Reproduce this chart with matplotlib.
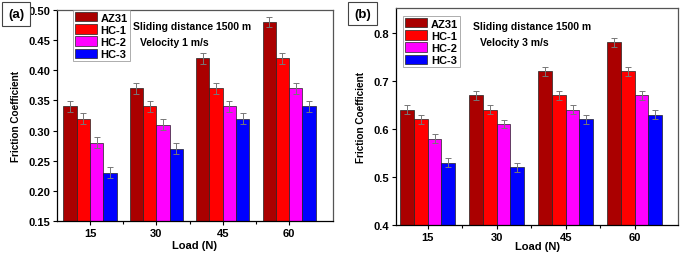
import matplotlib
matplotlib.use("Agg")
import matplotlib.pyplot as plt
import numpy as np

plt.rcParams['font.family'] = ['Liberation Sans', 'DejaVu Sans']
plt.rcParams['font.weight'] = 'bold'

loads = ['15', '30', '45', '60']
series = ['AZ31', 'HC-1', 'HC-2', 'HC-3']
colors = ['#AA0000', '#FF0000', '#FF00FF', '#0000FF']

a_AZ31 = [0.34, 0.37, 0.42, 0.48]
a_HC1 = [0.32, 0.34, 0.37, 0.42]
a_HC2 = [0.28, 0.31, 0.34, 0.37]
a_HC3 = [0.23, 0.27, 0.32, 0.34]
a_err = 0.009

b_AZ31 = [0.64, 0.67, 0.72, 0.78]
b_HC1 = [0.62, 0.64, 0.67, 0.72]
b_HC2 = [0.58, 0.61, 0.64, 0.67]
b_HC3 = [0.53, 0.52, 0.62, 0.63]
b_err = 0.009

fig = plt.figure(figsize=(6.85, 2.55), dpi=100)
axA = fig.add_axes([0.083, 0.129, 0.403, 0.828])
axB = fig.add_axes([0.578, 0.114, 0.412, 0.851])


def draw(ax, data, err, ylim, yticks, fmt, xlim, panel, vel, pos_label,
         leg_anchor, txt1, txt2, xlpad):
    x = np.arange(len(loads))
    w = 0.2
    for i, (vals, c, name) in enumerate(zip(data, colors, series)):
        ax.bar(x + (i - 1.5) * w, vals, w, color=c, edgecolor='#222222',
               linewidth=0.5, label=name, yerr=err,
               error_kw=dict(ecolor='#777777', elinewidth=0.7, capsize=2, capthick=0.7))
    ax.set_ylim(*ylim)
    ax.set_xlim(*xlim)
    ax.set_yticks(yticks)
    ax.set_yticklabels([fmt.format(v) for v in yticks])
    ax.set_xticks(x)
    ax.set_xticklabels(loads)
    ax.set_xticks(x[:-1] + 0.5, minor=True)
    ax.tick_params(axis='both', which='major', direction='out', length=3,
                   width=0.8, labelsize=8, pad=2)
    ax.tick_params(axis='x', which='minor', direction='out', length=2, width=0.8)
    ax.set_xlabel('Load (N)', fontsize=8, fontweight='bold', labelpad=xlpad)
    ax.set_ylabel('Friction Coefficient', fontsize=7.2, fontweight='bold', labelpad=5)
    for s in ['top', 'right']:
        ax.spines[s].set_color('#555555')
    for s in ax.spines.values():
        s.set_linewidth(0.9)
    leg = ax.legend(loc='upper left', bbox_to_anchor=leg_anchor, fontsize=8,
                    frameon=True, fancybox=False, edgecolor='#888888',
                    handlelength=2.0, handleheight=0.9, borderpad=0.2,
                    labelspacing=0.15, handletextpad=0.3, borderaxespad=0.0)
    leg.get_frame().set_linewidth(0.6)
    ax.text(txt1[0], txt1[1], 'Sliding distance 1500 m', transform=ax.transAxes,
            fontsize=7.5, fontweight='bold', va='center')
    ax.text(txt2[0], txt2[1], vel, transform=ax.transAxes,
            fontsize=7.5, fontweight='bold', va='center')
    fig.text(pos_label[0], pos_label[1], panel, fontsize=9.5, fontweight='bold',
             ha='center', va='center',
             bbox=dict(boxstyle='square,pad=0.45', fc='white', ec='#444444', lw=0.8))


draw(axA, [a_AZ31, a_HC1, a_HC2, a_HC3], a_err, (0.15, 0.50),
     [0.15, 0.20, 0.25, 0.30, 0.35, 0.40, 0.45, 0.50], '{:.2f}',
     (-0.5, 3.66), '(a)', 'Velocity 1 m/s', (0.024, 0.941),
     (0.058, 1.0), (0.275, 0.924), (0.30, 0.85), 1.5)
draw(axB, [b_AZ31, b_HC1, b_HC2, b_HC3], b_err, (0.4, 0.852),
     [0.4, 0.5, 0.6, 0.7, 0.8], '{:.1f}',
     (-0.46, 3.63), '(b)', 'Velocity 3 m/s', (0.529, 0.943),
     (0.025, 0.963), (0.273, 0.917), (0.298, 0.843), -0.5)

fig.savefig('out.png', dpi=100)
